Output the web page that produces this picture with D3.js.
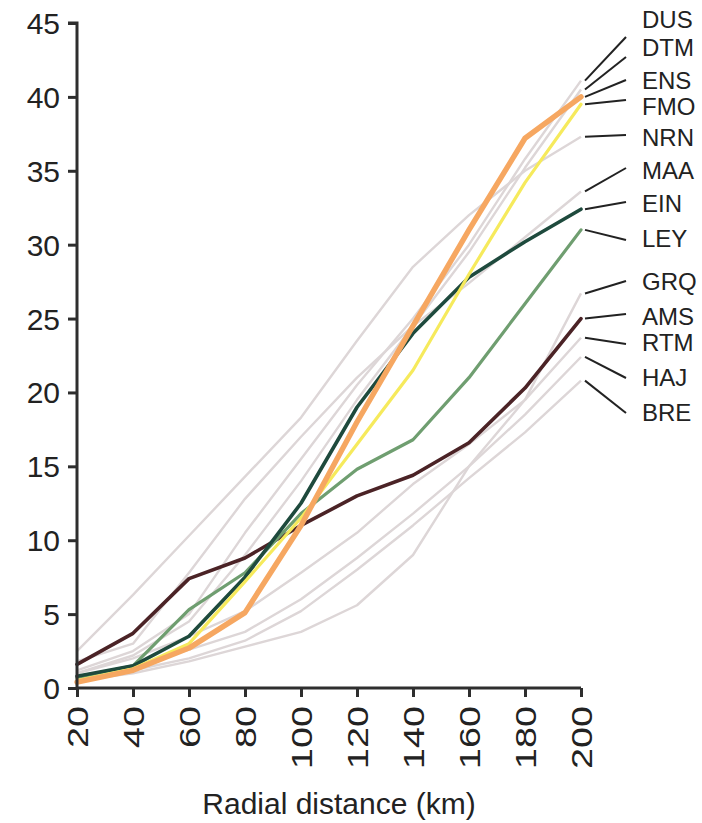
<!DOCTYPE html>
<html>
<head>
<meta charset="utf-8">
<script src="https://cdn.jsdelivr.net/npm/d3@7"></script>
<style>
  html, body { margin: 0; padding: 0; background: #fff; }
  svg { display: block; }
  text { font-family: "Liberation Sans", Arial, Helvetica, sans-serif; fill: #222; }
</style>
</head>
<body>
<svg id="chart" width="702" height="823"></svg>
<script>
// Radial distance steps (km)
const distances = [20, 40, 60, 80, 100, 120, 140, 160, 180, 200];
const yTicks = [0, 5, 10, 15, 20, 25, 30, 35, 40, 45];

// Station codes, in label order (top to bottom)
const stations = ["DUS", "DTM", "ENS", "FMO", "NRN", "MAA", "EIN", "LEY", "GRQ", "AMS", "RTM", "HAJ", "BRE"];

// Values per station along the radial distances
const DUS = [1.2, 2.5, 5.0, 10.5, 15.5, 20.5, 25.0, 30.0, 35.8, 41.1];
const DTM = [1.0, 2.2, 4.5, 9.0, 14.0, 19.5, 24.5, 29.5, 35.2, 40.5];
const ENS = [0.4, 1.2, 2.7, 5.1, 11.0, 18.0, 24.5, 31.0, 37.2, 40.0];
const FMO = [0.5, 1.3, 3.0, 7.2, 11.5, 16.5, 21.5, 28.0, 34.2, 39.5];
const NRN = [2.5, 6.3, 10.3, 14.3, 18.3, 23.5, 28.5, 32.0, 35.0, 37.3];
const MAA = [1.8, 3.0, 7.8, 12.8, 17.0, 21.0, 24.5, 27.4, 30.5, 33.6];
const EIN = [0.8, 1.5, 3.5, 7.5, 12.5, 19.0, 24.0, 27.8, 30.2, 32.4];
const LEY = [0.7, 1.5, 5.3, 7.8, 11.8, 14.8, 16.8, 21.0, 26.0, 31.0];
const GRQ = [0.5, 1.0, 1.8, 2.8, 3.8, 5.6, 9.0, 15.0, 19.5, 26.7];
const AMS = [1.6, 3.7, 7.4, 8.8, 11.0, 13.0, 14.4, 16.6, 20.3, 25.0];
const RTM = [1.0, 2.0, 3.5, 5.2, 7.8, 10.5, 13.8, 16.5, 19.5, 23.7];
const HAJ = [0.8, 1.5, 2.6, 3.8, 6.0, 8.8, 11.8, 15.0, 18.5, 22.4];
const BRE = [0.6, 1.2, 2.0, 3.2, 5.2, 8.0, 11.0, 14.2, 17.3, 20.8];

const seriesValues = { DUS, DTM, ENS, FMO, NRN, MAA, EIN, LEY, GRQ, AMS, RTM, HAJ, BRE };

// Highlighted stations and their styles; the rest are drawn as faint background lines
const highlight = {
  AMS: { color: "#4b2326", width: 3.6 },
  LEY: { color: "#6f9e70", width: 3.2 },
  EIN: { color: "#1e4a3d", width: 3.6 },
  FMO: { color: "#f6ea5c", width: 3.2 },
  ENS: { color: "#f6a761", width: 5.4 }
};
const drawOrder = ["AMS", "LEY", "EIN", "FMO", "ENS"];

// Label layout on the right
const labelY = [19, 47, 80, 106, 137, 170, 203, 238, 281, 316, 342, 377, 412];
const leaderEndY = [37, 57, 80, 100, 135, 168, 202, 240, 281, 314, 344, 378, 413];

const svg = d3.select("#chart");

const x = d3.scaleLinear().domain([20, 200]).range([77, 581]);
const y = d3.scaleLinear().domain([0, 45]).range([688, 23]);

const line = d3.line()
  .x((d, i) => x(distances[i]))
  .y(d => y(d));

// Background stations
const greyNames = stations.filter(s => !highlight[s]);
svg.append("g")
  .selectAll("path")
  .data(greyNames)
  .join("path")
  .attr("d", s => line(seriesValues[s]))
  .attr("fill", "none")
  .attr("stroke", "#ddd6d7")
  .attr("stroke-width", 2.4)
  .attr("stroke-linejoin", "round");

// Highlighted stations
svg.append("g")
  .selectAll("path")
  .data(drawOrder)
  .join("path")
  .attr("d", s => line(seriesValues[s]))
  .attr("fill", "none")
  .attr("stroke", s => highlight[s].color)
  .attr("stroke-width", s => highlight[s].width)
  .attr("stroke-linejoin", "round")
  .attr("stroke-linecap", "round");

// Axes
const axisColor = "#2e2e2e";
const yAxis = svg.append("g")
  .attr("transform", `translate(${x(20)},0)`)
  .call(d3.axisLeft(y).tickValues(yTicks).tickSize(9).tickPadding(8).tickFormat(d3.format("d")));
const xAxis = svg.append("g")
  .attr("transform", `translate(0,${y(0)})`)
  .call(d3.axisBottom(x).tickValues(distances).tickSize(9).tickPadding(0).tickFormat(d3.format("d")));

[yAxis, xAxis].forEach(g => {
  g.select(".domain").attr("stroke", axisColor).attr("stroke-width", 3);
  g.selectAll(".tick line").attr("stroke", axisColor).attr("stroke-width", 3);
  g.selectAll("text").attr("fill", "#222").style("font-family", '"Liberation Sans", Arial, sans-serif');
});
yAxis.select(".domain").attr("d", `M0,${y(0)}V${y(45)}H-9`);
xAxis.select(".domain").attr("d", `M${x(20)},0H${x(200)}`);

yAxis.selectAll("text").style("font-size", "30px").attr("dy", "0.35em");
xAxis.selectAll("text")
  .style("font-size", "29px")
  .attr("text-anchor", "end")
  .attr("transform", "translate(0,18) rotate(-90) scale(1.3,1)")
  .attr("x", 0).attr("y", 0).attr("dy", "0.35em");

svg.append("text")
  .attr("x", 339)
  .attr("y", 814)
  .attr("text-anchor", "middle")
  .style("font-size", "30px")
  .text("Radial distance (km)");

// Station labels with leader lines
const labels = svg.append("g");
stations.forEach((s, i) => {
  const vals = seriesValues[s];
  labels.append("line")
    .attr("x1", x(200) + 4).attr("y1", y(vals[vals.length - 1]))
    .attr("x2", 626).attr("y2", leaderEndY[i])
    .attr("stroke", "#222").attr("stroke-width", 2);
  labels.append("text")
    .attr("x", 642).attr("y", labelY[i]).attr("dy", "0.36em")
    .style("font-size", "24px")
    .text(s);
});
</script>
</body>
</html>
